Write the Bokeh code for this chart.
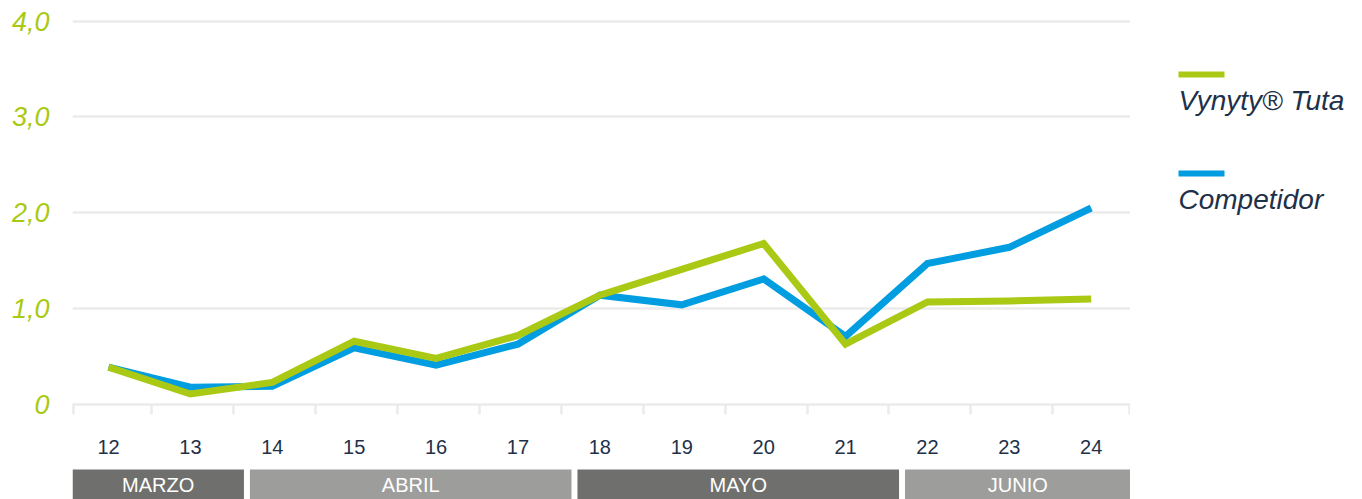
from bokeh.plotting import figure
from bokeh.models import FixedTicker, Range1d, ColumnDataSource
from bokeh.layouts import row, column
from bokeh.core.properties import value
from bokeh.embed import file_html
from bokeh.resources import INLINE

# ---- data ----
categories = ["12", "13", "14", "15", "16", "17", "18", "19", "20", "21", "22", "23", "24"]
vynyty = [0.39, 0.11, 0.23, 0.66, 0.48, 0.72, 1.14, 1.41, 1.68, 0.63, 1.07, 1.08, 1.10]
competidor = [0.39, 0.18, 0.19, 0.59, 0.41, 0.63, 1.14, 1.04, 1.31, 0.71, 1.47, 1.64, 2.05]
series_names = ["Vynyty® Tuta", "Competidor"]
months = ["MARZO", "ABRIL", "MAYO", "JUNIO"]
month_first = ["12", "14", "18", "22"]
month_last = ["13", "17", "21", "24"]
y_ticks = [0, 1, 2, 3, 4]

# ---- style ----
GREEN = "#a9c914"
BLUE = "#009ee0"
NAVY = "#1e3149"
GRID = "#ebebeb"
DARK = "#6f6f6e"
LIGHT = "#9d9d9c"
FONT = "Liberation Sans"

x = list(range(len(categories)))
X0, X1 = -0.44, 12.48

p = figure(frame_width=1058, frame_height=393,
           x_range=Range1d(X0, X1), y_range=Range1d(0, 4.1),
           min_border_left=72, min_border_right=0, min_border_top=11, min_border_bottom=56,
           output_backend="svg", toolbar_location=None)
p.outline_line_color = None
p.background_fill_color = "white"
p.border_fill_color = "white"

src = ColumnDataSource(dict(x=x, v=vynyty, c=competidor))
p.line("x", "c", source=src, line_color=BLUE, line_width=7, line_join="miter")
p.line("x", "v", source=src, line_color=GREEN, line_width=7, line_join="miter")

# y axis
p.yaxis.ticker = FixedTicker(ticks=y_ticks)
p.yaxis.major_label_overrides = {t: ("0" if t == 0 else f"{t:.1f}".replace(".", ",")) for t in y_ticks}
p.yaxis.axis_line_color = None
p.yaxis.major_tick_line_color = None
p.yaxis.minor_tick_line_color = None
p.yaxis.major_tick_out = 0
p.yaxis.major_label_standoff = 23
p.yaxis.major_label_text_font = FONT
p.yaxis.major_label_text_font_style = "italic"
p.yaxis.major_label_text_font_size = "27px"
p.yaxis.major_label_text_color = GREEN

# x axis
boundaries = [X0 + 0.01] + [i + 0.53 for i in range(len(categories) - 1)] + [X1 - 0.01]
p.xaxis.ticker = FixedTicker(ticks=x, minor_ticks=boundaries)
p.xaxis.major_label_overrides = {i: c for i, c in zip(x, categories)}
p.xaxis.axis_line_color = GRID
p.xaxis.axis_line_width = 2.5
p.xaxis.major_tick_line_color = None
p.xaxis.major_tick_out = 0
p.xaxis.major_tick_in = 0
p.xaxis.minor_tick_line_color = GRID
p.xaxis.minor_tick_line_width = 2.5
p.xaxis.minor_tick_out = 10
p.xaxis.minor_tick_in = 0
p.xaxis.major_label_standoff = 25
p.xaxis.major_label_text_font = FONT
p.xaxis.major_label_text_font_size = "20px"
p.xaxis.major_label_text_color = NAVY

p.xgrid.grid_line_color = None
p.ygrid.ticker = FixedTicker(ticks=y_ticks[1:])
p.ygrid.grid_line_color = GRID
p.ygrid.grid_line_width = 2.5

# ---- month band ----
BAND_SHIFT = 0.19
GAP = 0.073
idx = {c: i for i, c in enumerate(categories)}
lefts, rights, colors = [], [], []
for k, (a, b) in enumerate(zip(month_first, month_last)):
    lefts.append(X0 if k == 0 else idx[a] - 0.5 + BAND_SHIFT + GAP / 2)
    rights.append(X1 if k == len(months) - 1 else idx[b] + 0.5 + BAND_SHIFT - GAP / 2)
    colors.append(DARK if k % 2 == 0 else LIGHT)
mid = [(l + r) / 2 for l, r in zip(lefts, rights)]

m = figure(frame_width=1058, frame_height=30, x_range=p.x_range, y_range=Range1d(0, 1),
           min_border_left=72, min_border_right=0, min_border_top=9, min_border_bottom=0,
           x_axis_location=None, y_axis_location=None,
           output_backend="svg", toolbar_location=None)
m.outline_line_color = None
m.grid.grid_line_color = None
msrc = ColumnDataSource(dict(l=lefts, r=rights, c=colors, mid=mid, t=months))
m.quad(left="l", right="r", bottom=-1, top=1.2, fill_color="c", line_color=None, source=msrc)
m.text(x="mid", y=0.48, text="t", source=msrc, text_align="center", text_baseline="middle",
       text_color="white", text_font=value(FONT), text_font_size="20px")

# ---- legend panel ----
lg = figure(frame_width=232, frame_height=499, x_range=Range1d(0, 232), y_range=Range1d(499, 0),
            min_border=0, x_axis_location=None, y_axis_location=None,
            output_backend="svg", toolbar_location=None)
lg.outline_line_color = None
lg.grid.grid_line_color = None
ly = [74 + 99 * i for i in range(len(series_names))]
lsrc = ColumnDataSource(dict(y=ly, ty=[v + 26 for v in ly], n=series_names, c=[GREEN, BLUE]))
lg.segment(x0=48, x1=94, y0="y", y1="y", line_color="c", line_width=6, source=lsrc)
lg.text(x=48, y="ty", text="n", source=lsrc, text_align="left", text_baseline="middle",
        text_color=NAVY, text_font=value(FONT), text_font_style="italic", text_font_size="28px")

layout = row(column(p, m), lg)
open("out.html", "w").write(file_html(layout, INLINE))
